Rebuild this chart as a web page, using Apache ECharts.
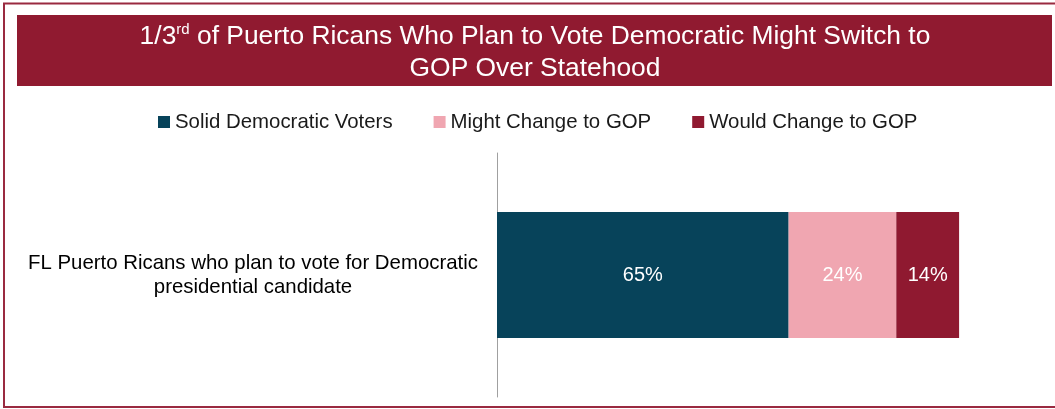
<!DOCTYPE html>
<html>
<head>
<meta charset="utf-8">
<script src="https://cdn.jsdelivr.net/npm/echarts@6/dist/echarts.min.js"></script>
<style>
html,body{margin:0;padding:0;background:#fff;}
#chart{width:1055px;height:409px;}
</style>
</head>
<body>
<div id="chart"></div>
<script>
const categories = ['FL Puerto Ricans who plan to vote for Democratic\npresidential candidate'];
const seriesNames = ['Solid Democratic Voters', 'Might Change to GOP', 'Would Change to GOP'];
const solidDem = [65];
const mightChange = [24];
const wouldChange = [14];
const seriesColors = ['#07435A', '#F0A6B1', '#8F1930'];

const chart = echarts.init(document.getElementById('chart'), null, {renderer: 'canvas'});
const FONT = 'Liberation Sans, Arial, sans-serif';

const valuesList = [solidDem, mightChange, wouldChange];
const series = seriesNames.map((name, i) => ({
  name: name,
  type: 'bar',
  stack: 'total',
  barWidth: 126,
  data: valuesList[i],
  itemStyle: {color: seriesColors[i]},
  label: {
    show: true,
    position: 'inside',
    formatter: '{c}%',
    color: '#fff',
    fontSize: 20,
    fontFamily: FONT
  },
  emphasis: {disabled: true}
}));

chart.setOption({
  animation: false,
  textStyle: {fontFamily: FONT},
  graphic: [
    {
      type: 'rect',
      shape: {x: 4, y: 3.5, width: 1070, height: 403.5},
      style: {fill: 'none', stroke: '#9A2A40', lineWidth: 2},
      silent: true
    },
    {
      type: 'rect',
      shape: {x: 17, y: 15, width: 1035, height: 71},
      style: {fill: '#901A30'},
      silent: true
    },
    {
      type: 'text',
      x: 535,
      y: 52.5,
      style: {
        text: '{a|1/3}{s|rd}{a| of Puerto Ricans Who Plan to Vote Democratic Might Switch to}\n{a|GOP Over Statehood}',
        align: 'center',
        verticalAlign: 'middle',
        textAlign: 'center',
        textVerticalAlign: 'middle',
        fill: '#fff',
        font: '26.4px ' + FONT,
        rich: {
          a: {fontSize: 26.4, lineHeight: 32, fontFamily: FONT, fill: '#fff', color: '#fff'},
          s: {fontSize: 15, lineHeight: 32, fontFamily: FONT, fill: '#fff', color: '#fff', verticalAlign: 'top', padding: [2, 0, 0, 0]}
        }
      },
      silent: true
    }
  ],
  legend: {
    data: seriesNames,
    left: 158,
    top: 112,
    padding: 0,
    icon: 'rect',
    itemWidth: 12,
    itemHeight: 12,
    itemGap: 41,
    selectedMode: false,
    textStyle: {fontSize: 20.4, color: '#1a1a1a', fontFamily: FONT}
  },
  grid: {left: 497, top: 153, height: 244, width: 493.5, containLabel: false},
  xAxis: {
    type: 'value',
    min: 0,
    max: 110,
    show: false
  },
  yAxis: {
    type: 'category',
    data: categories,
    axisTick: {show: false},
    axisLine: {show: true, lineStyle: {color: '#A0A0A0', width: 1}},
    axisLabel: {
      fontSize: 20.4,
      color: '#000',
      fontFamily: FONT,
      align: 'center',
      margin: 244,
      lineHeight: 24
    }
  },
  series: series
});
</script>
</body>
</html>
